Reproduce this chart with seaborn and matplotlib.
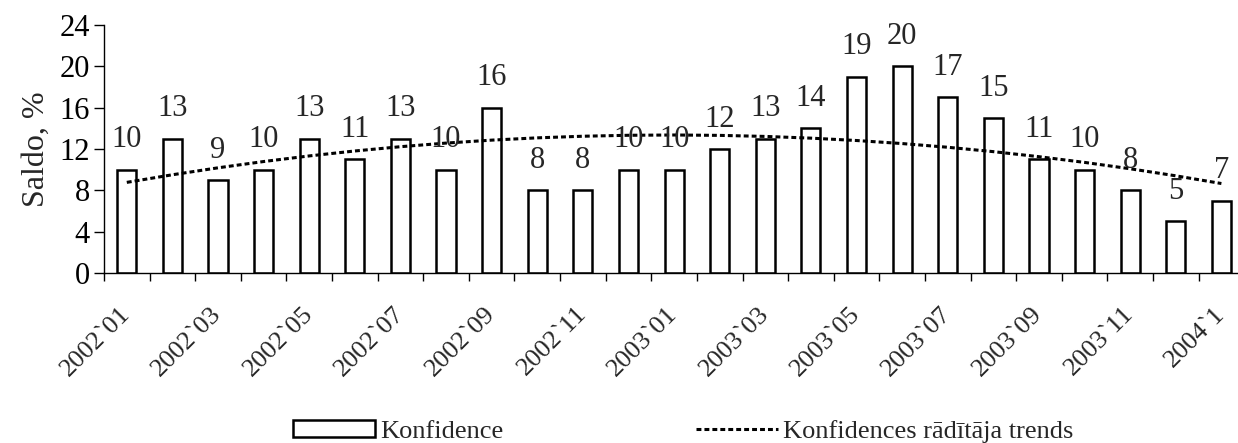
import numpy as np
import pandas as pd
import matplotlib
matplotlib.use("Agg")
import matplotlib.pyplot as plt
from matplotlib.patches import Patch
from matplotlib.lines import Line2D
from matplotlib.ticker import FixedLocator
import seaborn as sns

# data
months = ["2002`01", "2002`02", "2002`03", "2002`04", "2002`05", "2002`06",
          "2002`07", "2002`08", "2002`09", "2002`10", "2002`11", "2002`12",
          "2003`01", "2003`02", "2003`03", "2003`04", "2003`05", "2003`06",
          "2003`07", "2003`08", "2003`09", "2003`10", "2003`11", "2003`12",
          "2004`1"]
konfidence = [10, 13, 9, 10, 13, 11, 13, 10, 16, 8, 8, 10, 10, 12, 13, 14,
              19, 20, 17, 15, 11, 10, 8, 5, 7]
yticks = [0, 4, 8, 12, 16, 20, 24]
bar_label = "Konfidence"
trend_label = "Konfidences rādītāja trends"

df = pd.DataFrame({"Month": months, "Value": konfidence})
df["pos"] = np.arange(len(df))

# polynomial (2nd order) trend, as the spreadsheet trendline does
coef = np.polyfit(df["pos"] + 1, df["Value"], 2)
df["Trend"] = np.polyval(coef, df["pos"] + 1)

sns.set_style("ticks")
plt.rcParams["font.family"] = ["Liberation Serif", "DejaVu Serif"]

fig = plt.figure(figsize=(12.38, 4.43), dpi=100)
ax = fig.add_axes([0.084, 0.3837, 0.921, 0.5599])

sns.barplot(data=df, x="Month", y="Value", order=months, color="white",
            edgecolor="black", linewidth=1.8, width=0.42, saturation=1,
            ax=ax, zorder=2)
sns.lineplot(data=df, x="pos", y="Trend", color="black", lw=2.2,
             dashes=False, ax=ax, zorder=3)
ax.lines[-1].set_dashes((1.6, 1.0))

for i, v in enumerate(konfidence):
    ax.annotate(str(v), (i, v), xytext=(0, 16), textcoords="offset points",
                ha="center", va="baseline", fontsize=22, zorder=4)

ax.set_xlim(-0.5, len(months) - 0.5)
ax.set_ylim(0, 24)
ax.set_yticks(yticks)
ax.tick_params(axis="y", labelsize=22, length=7, width=1, direction="out",
               pad=3, colors="black")

ax.xaxis.set_major_locator(FixedLocator(list(range(0, len(months), 2))))
ax.set_xticklabels(months[::2], rotation=45, ha="right", va="center",
                   rotation_mode="anchor", fontsize=19)
ax.xaxis.set_minor_locator(FixedLocator(list(np.arange(-0.5, len(months), 1.0))))
ax.tick_params(axis="x", which="major", length=0, pad=27)
ax.tick_params(axis="x", which="minor", length=6, width=1, colors="black")

ax.set_xlabel("")
ax.set_ylabel("Saldo, %", fontsize=23, labelpad=6)
for s in ["top", "right"]:
    ax.spines[s].set_visible(False)
for s in ["left", "bottom"]:
    ax.spines[s].set_color("black")
    ax.spines[s].set_linewidth(1)
ax.grid(False)

handles = [Patch(facecolor="white", edgecolor="black", linewidth=1.8),
           Line2D([0], [0], color="black", lw=2.2, dashes=(1.6, 1.0))]
fig.legend(handles, [bar_label, trend_label], loc="center",
           bbox_to_anchor=(0.552, 0.027), ncol=2, frameon=False, fontsize=19,
           handlelength=3.1, handleheight=0.6, handletextpad=0.2,
           columnspacing=7.3, borderpad=0)

fig.savefig("out.png", dpi=100)
